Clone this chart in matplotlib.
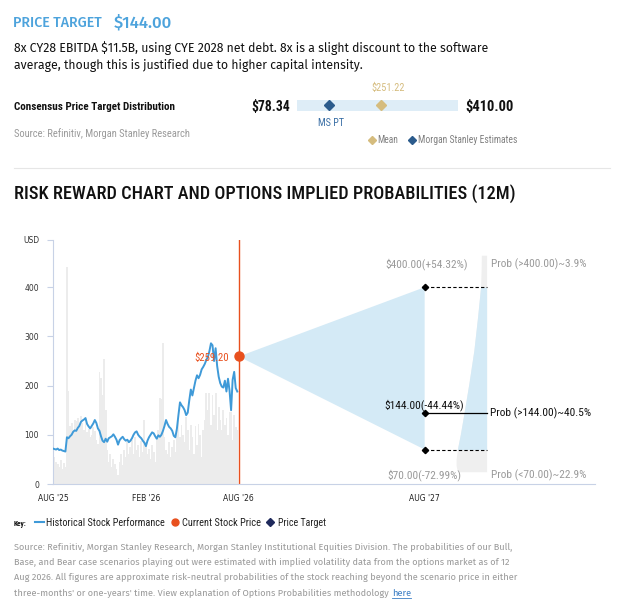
import numpy as np
import matplotlib
matplotlib.use('Agg')
import matplotlib.pyplot as plt
from matplotlib.transforms import Affine2D
from matplotlib.lines import Line2D

# Precio historico (USD), un punto cada ~3 dias, desde AUG '25
precio = [72, 71, 70, 72, 69, 70, 68, 67, 66, 95,
          93, 97, 100, 106, 109, 108, 114, 118, 126, 129,
          131, 134, 122, 117, 113, 118, 123, 130, 124, 113,
          108, 97, 88, 85, 92, 86, 93, 95, 97, 101,
          96, 90, 80, 89, 93, 96, 91, 88, 90, 85,
          88, 93, 100, 105, 107, 100, 96, 93, 88, 84,
          77, 88, 95, 100, 105, 103, 97, 92, 99, 96,
          100, 108, 118, 130, 122, 116, 113, 108, 98, 95,
          112, 140, 166, 160, 156, 150, 140, 145, 170, 192,
          180, 195, 210, 221, 215, 222, 233, 238, 244, 252,
          258, 270, 286, 282, 250, 276, 240, 218, 205, 198,
          196, 210, 188, 214, 190, 150, 212, 228, 195, 188]

# Volume (barras cinza), na mesma escala visual do grafico
volume = [60, 55, 45, 40, 35, 48, 30, 42, 35, 441,
          190, 118, 125, 110, 130, 128, 135, 120, 138, 125,
          110, 130, 105, 112, 95, 100, 115, 108, 90, 82,
          228, 215, 180, 255, 150, 70, 45, 60, 35, 50,
          40, 30, 18, 45, 60, 38, 70, 55, 85, 60,
          75, 90, 62, 95, 70, 80, 55, 88, 65, 130,
          85, 60, 72, 50, 80, 65, 45, 90, 110, 175,
          172, 286, 95, 70, 60, 85, 55, 75, 90, 65,
          110, 130, 95, 120, 100, 85, 136, 110, 70, 120,
          95, 60, 118, 80, 122, 100, 55, 110, 130, 184,
          150, 185, 120, 180, 140, 184, 110, 157, 130, 109,
          150, 120, 135, 100, 146, 146, 90, 140, 116, 110]

meses = np.arange(len(precio)) * 0.1

preco_atual = 259.20
cenario_bull = 400.00
cenario_base = 144.00
cenario_bear = 70.00
rotulos_cenario = ['$400.00(+54.32%)', '$144.00(-44.44%)', '$70.00(-72.99%)']
rotulos_prob = ['Prob (>400.00)~3.9%', 'Prob (>144.00)~40.5%', 'Prob (<70.00)~22.9%']

# Forma da distribuicao implicita (largura em meses em cada nivel de preco)
dist_niveis = [25, 30, 38, 50, 70, 100, 144, 205, 272, 340, 400, 440, 465]
dist_larguras = [1.80, 1.92, 1.97, 1.97, 1.89, 1.70, 1.46, 1.14, 0.82, 0.58, 0.39, 0.35, 0.34]

x_ticks = [0, 6, 12, 24]
x_labels = ["AUG '25", "FEB '26", "AUG '26", "AUG '27"]
y_ticks = [0, 100, 200, 300, 400, 496]
y_labels = ['0', '100', '200', '300', '400', 'USD']

consenso_min = 78.34
consenso_max = 410.00
consenso_media = 251.22
ms_pt = 144.00

AZUL = '#3f9ad8'
VERMELHO = '#e8501e'
CONE = '#d4eaf6'
CINZA_TXT = '#9a9a9a'
EIXO = '#c8d2e6'
CORPO = ['Fira Sans', 'Roboto', 'DejaVu Sans']
ESTREITA = ['Roboto Condensed', 'Roboto', 'DejaVu Sans']

W, H = 618, 612
fig = plt.figure(figsize=(W / 100, H / 100), dpi=100)
renderer = fig.canvas.get_renderer()
# coordenadas em pixels com origem no canto superior esquerdo
T = Affine2D().scale(1 / W, -1 / H).translate(0, 1) + fig.transFigure


def caixa(x, y, w, h):
    return [x / W, 1 - (y + h) / H, w / W, h / H]


# ajusta o tamanho da fonte para a largura medida na referencia (pixels)
def ajustar(t, largura):
    w = t.get_window_extent(renderer).width
    t.set_fontsize(t.get_fontsize() * largura / w)
    return t.get_fontsize()


def texto(x, y, s, largura=None, tamanho=8, **kw):
    kw.setdefault('family', ESTREITA)
    t = fig.text(x, y, s, transform=T, fontsize=tamanho, **kw)
    if largura:
        ajustar(t, largura)
    return t


# ---- Cabecalho ----
texto(13, 27, 'PRICE TARGET', 89, color='#4da3dc', fontweight='medium', family=CORPO)
texto(114, 27, '$144.00', 58, color='#4da3dc', fontweight='medium', family=CORPO)
t1 = texto(14, 52, '8x CY28 EBITDA $11.5B, using CYE 2028 net debt. 8x is a slight discount to the software',
           476, color='#111111', family=CORPO)
texto(14, 68.5, 'average, though this is justified due to higher capital intensity.',
      tamanho=t1.get_fontsize(), color='#111111', family=CORPO)
texto(14, 110, 'Consensus Price Target Distribution', 162, color='#111111', fontweight='bold')
texto(14, 137.3, 'Source: Refinitiv, Morgan Stanley Research', 177, color=CINZA_TXT)
texto(290, 111, '$%.2f' % consenso_min, 38, ha='right', color='#111111', fontweight='bold')
texto(465, 111, '$%.2f' % consenso_max, 48, ha='left', color='#111111', fontweight='bold')

ax_c = fig.add_axes(caixa(297, 99.5, 161, 11.5))
ax_c.set_xlim(consenso_min, consenso_max)
ax_c.set_ylim(0, 1)
ax_c.set_facecolor('#deedf7')
for s in ax_c.spines.values():
    s.set_visible(False)
ax_c.set_xticks([])
ax_c.set_yticks([])
ax_c.plot(ms_pt, 0.5, 'D', color='#2b5b8c', ms=5.4, clip_on=False)
ax_c.plot(consenso_media, 0.5, 'D', color='#d5bc7e', ms=5.4, clip_on=False)
texto(388, 91, '$%.2f' % consenso_media, 34, ha='center', color='#d5bc7e')
texto(331, 125.7, 'MS PT', 26, ha='center', color='#3a6fa5')

# legenda do consenso
fig.add_artist(Line2D([372], [139.5], transform=T, marker='D', ms=4, color='#d5bc7e', lw=0))
texto(377, 142.7, 'Mean', 21, color='#808080')
fig.add_artist(Line2D([412], [139.5], transform=T, marker='D', ms=4, color='#2b5b8c', lw=0))
texto(418, 142.7, 'Morgan Stanley Estimates', 99, color='#808080')

fig.add_artist(Line2D([14, 610], [168, 168], transform=T, color='#e6e6e6', lw=0.8))
texto(14, 199.3, 'RISK REWARD CHART AND OPTIONS IMPLIED PROBABILITIES (12M)', 501,
      color='#111111', fontweight='medium')

# ---- Grafico principal ----
ax = fig.add_axes(caixa(53, 240, 542, 244))
ax.set_xlim(0, 35)
ax.set_ylim(0, 496)

ax.bar(meses, volume, width=0.12, color='#ececec', linewidth=0, zorder=1)
ax.plot(meses, precio, color=AZUL, lw=1.4, zorder=3)
ax.axvline(12, color=VERMELHO, lw=1, zorder=2)
ax.fill([12, 24, 24], [preco_atual, cenario_bull, cenario_bear], color=CONE, lw=0, zorder=2)
ax.plot(12, preco_atual, 'o', color=VERMELHO, ms=6.5, zorder=5)
t_atual = ax.text(11.35, 250, '$%.2f' % preco_atual, ha='right', va='baseline', color=VERMELHO,
                  fontsize=8, zorder=6, family=ESTREITA)
ajustar(t_atual, 35)

borda = 28.0
niveis = np.array(dist_niveis)
esquerda = borda - np.array(dist_larguras)
ax.fill_betweenx(niveis, esquerda, borda, color='#efefef', lw=0, zorder=1)
dentro = (niveis >= cenario_bear) & (niveis <= cenario_bull)
ax.fill_betweenx(niveis, esquerda, borda, where=dentro, color=CONE, lw=0, zorder=2)

ax.plot([24, borda], [cenario_bull, cenario_bull], color='black', lw=0.8, dashes=(3, 2), zorder=4)
ax.plot([24, borda], [cenario_bear, cenario_bear], color='black', lw=0.8, dashes=(3, 2), zorder=4)
ax.plot([24, borda], [cenario_base, cenario_base], color='black', lw=0.9, zorder=4)
ax.plot([24, 24, 24], [cenario_bull, cenario_base, cenario_bear], 'D', color='black', ms=3.2, zorder=5)

rot = [ax.text(24.1, 440.5, rotulos_cenario[0], ha='center', va='baseline', color=CINZA_TXT),
       ax.text(24.0, 153.9, rotulos_cenario[1], ha='center', va='baseline', color='#111111'),
       ax.text(24.0, 11.5, rotulos_cenario[2], ha='center', va='baseline', color=CINZA_TXT),
       ax.text(28.3, 440.5, rotulos_prob[0], ha='left', va='baseline', color=CINZA_TXT),
       ax.text(28.2, cenario_base, rotulos_prob[1], ha='left', va='center', color='#111111'),
       ax.text(28.3, 11.5, rotulos_prob[2], ha='left', va='baseline', color=CINZA_TXT)]
for r in rot:
    r.set_family(ESTREITA)
    r.set_fontsize(8)
tam = ajustar(rot[3], 96)
for r in rot:
    r.set_fontsize(tam)

for lado in ['top', 'right']:
    ax.spines[lado].set_visible(False)
for lado in ['left', 'bottom']:
    ax.spines[lado].set_color(EIXO)
    ax.spines[lado].set_linewidth(0.8)
ax.set_xticks(x_ticks)
ax.set_xticklabels(x_labels, fontsize=5.5, color='#222222')
ax.set_yticks(y_ticks)
ax.set_yticklabels(y_labels, fontsize=5.5, color='#333333')
ax.tick_params(axis='y', length=4, color=EIXO, pad=6)
ax.tick_params(axis='x', length=0, pad=7)

# ---- Chave ----
texto(14, 525.7, 'Key:', 13, color='#111111', fontweight='bold')
fig.add_artist(Line2D([35, 44], [522, 522], transform=T, color=AZUL, lw=1.5))
texto(45.5, 525.7, 'Historical Stock Performance', 118.5, color='#222222')
fig.add_artist(Line2D([175], [522], transform=T, marker='o', ms=5, color=VERMELHO, lw=0))
texto(182, 525.7, 'Current Stock Price', 79, color='#222222')
fig.add_artist(Line2D([270], [522], transform=T, marker='D', ms=3.8, color='#1f2a5c', lw=0))
texto(278, 525.7, 'Price Target', 48, color='#222222')

# ---- Nota de rodape ----
rodape = ['Source: Refinitiv, Morgan Stanley Research, Morgan Stanley Institutional Equities Division. The probabilities of our Bull,',
          'Base, and Bear case scenarios playing out were estimated with implied volatility data from the options market as of 12',
          'Aug 2026. All figures are approximate risk-neutral probabilities of the stock reaching beyond the scenario price in either',
          "three-months' or one-years' time. View explanation of Options Probabilities methodology"]
r0 = texto(14, 550, rodape[0], 496, color=CINZA_TXT, family=CORPO)
tam_rod = r0.get_fontsize()
for i, linha in enumerate(rodape[1:], start=1):
    ult = texto(14, 550 + i * 15.2, linha, tamanho=tam_rod, color=CINZA_TXT, family=CORPO)
fim = ult.get_window_extent(renderer).x1 + 3
aqui = texto(fim, 550 + 3 * 15.2, 'here', tamanho=tam_rod, color='#3a7dc4', family=CORPO)
larg_aqui = aqui.get_window_extent(renderer).width
fig.add_artist(Line2D([fim, fim + larg_aqui], [598, 598], transform=T, color='#3a7dc4', lw=0.6))

plt.savefig('out.png', dpi=100)
